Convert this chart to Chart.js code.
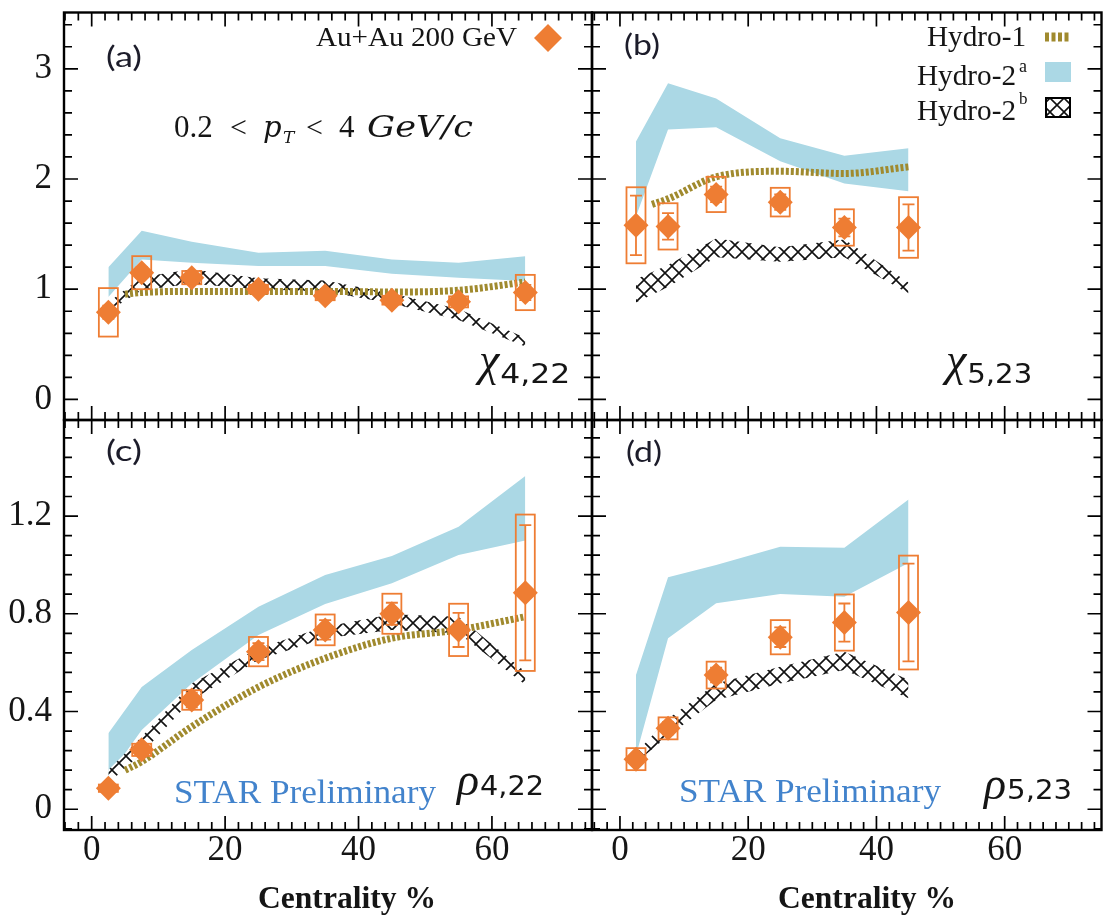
<!DOCTYPE html>
<html>
<head>
<meta charset="utf-8">
<title>Au+Au 200 GeV - chi and rho vs centrality</title>
<script src="https://cdn.jsdelivr.net/npm/chart.js@4.4.1/dist/chart.umd.min.js"></script>
<style>
  html, body { margin: 0; background: #fff; }
  #figure { position: relative; width: 1114px; height: 923px; background: #fff; }
  #figure canvas { position: absolute; left: 0; top: 0; }
</style>
</head>
<body>
<div id="figure">
  <canvas id="panelA" width="1114" height="923"></canvas>
  <canvas id="panelB" width="1114" height="923"></canvas>
  <canvas id="panelC" width="1114" height="923"></canvas>
  <canvas id="panelD" width="1114" height="923"></canvas>
</div>
<script>
// Centralité (%) des points
const centrality = [2.5, 7.5, 15, 25, 35, 45, 55, 65];
const centralityShort = [2.5, 7.5, 15, 25, 35, 45];
const hydro1X = [5, 7.5, 15, 25, 35, 45, 55, 65];
const hydro1XShort = [5, 7.5, 15, 25, 35, 45];

// Graduations
const xTicks = [0, 20, 40, 60];
const yTicksChi = [0, 1, 2, 3];
const yTicksRho = [0, 0.4, 0.8, 1.2];

// (a) chi 4,22
const chi422 = [0.79, 1.15, 1.105, 1.00, 0.94, 0.90, 0.885, 0.97];
const chi422Stat = [0.06, 0.05, 0.04, 0.03, 0.03, 0.04, 0.05, 0.07];
const chi422Sys = [0.22, 0.15, 0.06, 0.04, 0.04, 0.04, 0.05, 0.16];
const chi422Hydro1 = [0.955, 0.97, 0.98, 0.98, 0.98, 0.975, 0.99, 1.065];
const chi422Hydro2aLow = [0.93, 1.27, 1.24, 1.21, 1.21, 1.14, 1.105, 1.075];
const chi422Hydro2aHigh = [1.20, 1.53, 1.43, 1.33, 1.35, 1.27, 1.24, 1.30];
const chi422Hydro2bLow = [0.80, 0.99, 1.05, 1.00, 0.98, 0.87, 0.72, 0.48];
const chi422Hydro2bHigh = [0.88, 1.11, 1.18, 1.10, 1.08, 0.96, 0.82, 0.56];

// (b) chi 5,23
const chi523 = [1.58, 1.57, 1.86, 1.79, 1.56, 1.56];
const chi523Stat = [0.27, 0.12, 0.07, 0.07, 0.08, 0.21];
const chi523Sys = [0.345, 0.21, 0.16, 0.13, 0.165, 0.275];
const chi523Hydro1 = [1.77, 1.82, 2.02, 2.07, 2.05, 2.11];
const chi523Hydro2aLow = [1.66, 2.45, 2.47, 2.16, 1.96, 1.89];
const chi523Hydro2aHigh = [2.34, 2.87, 2.73, 2.37, 2.21, 2.28];
const chi523Hydro2bLow = [0.88, 1.02, 1.29, 1.25, 1.29, 0.96];
const chi523Hydro2bHigh = [1.09, 1.22, 1.46, 1.38, 1.45, 1.06];

// (c) rho 4,22
const rho422 = [0.086, 0.243, 0.447, 0.645, 0.734, 0.80, 0.734, 0.886];
const rho422Stat = [0.015, 0.02, 0.03, 0.035, 0.04, 0.045, 0.07, 0.277];
const rho422Sys = [0.015, 0.025, 0.04, 0.06, 0.063, 0.082, 0.107, 0.32];
const rho422Hydro1 = [0.16, 0.195, 0.338, 0.50, 0.618, 0.70, 0.734, 0.788];
const rho422Hydro2aLow = [0.133, 0.324, 0.515, 0.713, 0.84, 0.925, 1.04, 1.10];
const rho422Hydro2aHigh = [0.311, 0.50, 0.652, 0.829, 0.959, 1.036, 1.156, 1.364];
const rho422Hydro2bLow = [0.106, 0.229, 0.447, 0.611, 0.70, 0.734, 0.72, 0.509];
const rho422Hydro2bHigh = [0.161, 0.297, 0.515, 0.659, 0.747, 0.798, 0.788, 0.563];

// (d) rho 5,23
const rho523 = [0.205, 0.331, 0.549, 0.704, 0.764, 0.805];
const rho523Stat = [0.02, 0.025, 0.03, 0.04, 0.078, 0.2];
const rho523Sys = [0.045, 0.045, 0.055, 0.07, 0.115, 0.233];
const rho523Hydro2aLow = [0.22, 0.70, 0.843, 0.881, 0.87, 1.008];
const rho523Hydro2aHigh = [0.549, 0.949, 1.0, 1.074, 1.07, 1.268];
const rho523Hydro2bLow = [0.19, 0.30, 0.447, 0.515, 0.57, 0.454];
const rho523Hydro2bHigh = [0.23, 0.37, 0.515, 0.583, 0.645, 0.53];

const W = 1114, H = 923;
const orange = '#EE7D33';
const bandBlue = 'rgb(171, 216, 229)';
const olive = '#A08A2E';
const starBlue = '#4283CC';
const ink = '#151515';
const serif = '"Liberation Serif", "Times New Roman", serif';
const mathSerif = '"DejaVu Serif", serif';
const sans = 'Lato, "Noto Sans", sans-serif';

// motif hachuré pour Hydro-2b
const hatch = (function() {
    const c = document.createElement('canvas');
    c.width = 14; c.height = 14;
    const g = c.getContext('2d');
    g.fillStyle = '#fff';
    g.fillRect(0, 0, 14, 14);
    g.strokeStyle = '#111';
    g.lineWidth = 1.6;
    g.beginPath();
    g.moveTo(0, 0); g.lineTo(14, 14);
    g.moveTo(14, 0); g.lineTo(0, 14);
    g.stroke();
    return g.createPattern(c, 'repeat');
})();

function pts(xs, ys) {
    return xs.map((x, i) => ({ x: x, y: ys[i] }));
}

function drawText(ctx, s, x, y, font, color, align) {
    ctx.font = font;
    ctx.fillStyle = color || ink;
    ctx.textAlign = align || 'left';
    ctx.textBaseline = 'alphabetic';
    ctx.fillText(s, x, y);
    return ctx.measureText(s).width;
}

// texte étiré à une largeur donnée (police de l'original plus large)
function fitText(ctx, s, x, y, font, width, color, align) {
    ctx.save();
    ctx.font = font;
    const w = ctx.measureText(s).width;
    const sx = width / w;
    let left = x;
    if (align === 'center') left = x - width / 2;
    if (align === 'right') left = x - width;
    ctx.translate(left, y);
    ctx.scale(sx, 1);
    drawText(ctx, s, 0, 0, font, color, 'left');
    ctx.restore();
}

function diamond(ctx, x, y, r) {
    ctx.beginPath();
    ctx.moveTo(x - r, y); ctx.lineTo(x, y - r); ctx.lineTo(x + r, y); ctx.lineTo(x, y + r);
    ctx.closePath();
    ctx.fillStyle = orange;
    ctx.fill();
}

function observable(ctx, sym, sub, x, ySym, ySub, subWidth) {
    drawText(ctx, sym, x, ySym, `italic 46px ${serif}`);
    ctx.font = `italic 46px ${serif}`;
    const w = ctx.measureText(sym).width;
    fitText(ctx, sub, x + w + 1, ySub, `27px "DejaVu Sans", sans-serif`, subWidth);
}

function starPreliminary(ctx, x, y) {
    fitText(ctx, 'STAR Preliminary', x, y, `34px ${serif}`, 262, starBlue);
}

function centralityTitle(ctx, cx) {
    fitText(ctx, 'Centrality %', cx, 908, `bold 32px ${serif}`, 178, ink, 'center');
}

function panelTag(ctx, s, x, y) {
    fitText(ctx, s, x, y, `29px ${sans}`, 36, '#1c1c2a');
}

function drawPanelA(ctx) {
    panelTag(ctx, '(a)', 106, 67);
    // 0.2 < pT < 4 GeV/c
    const up = `30px ${serif}`, it = `italic 29px ${mathSerif}`;
    drawText(ctx, '0.2', 174, 137, `31px ${serif}`);
    drawText(ctx, '<', 230, 137, up);
    drawText(ctx, 'p', 263, 137, it);
    drawText(ctx, 'T', 283, 143, `italic 17px ${mathSerif}`);
    drawText(ctx, '<', 306, 137, up);
    drawText(ctx, '4', 339, 137, `31px ${serif}`);
    fitText(ctx, 'GeV/c', 367, 137, it, 106);
    // légende données
    fitText(ctx, 'Au+Au 200 GeV', 517, 46, `27px ${serif}`, 201, ink, 'right');
    diamond(ctx, 548, 38, 14);
    observable(ctx, '\u03C7', '4,22', 479, 375, 383, 70);
}

function drawPanelB(ctx) {
    panelTag(ctx, '(b)', 624, 55);
    fitText(ctx, 'Hydro-1', 1026, 46, `29px ${serif}`, 99, ink, 'right');
    fitText(ctx, 'Hydro-2', 1016, 85, `29px ${serif}`, 99, ink, 'right');
    drawText(ctx, 'a', 1019, 72, `18px ${serif}`);
    fitText(ctx, 'Hydro-2', 1016, 120, `29px ${serif}`, 99, ink, 'right');
    drawText(ctx, 'b', 1019, 104, `17px ${serif}`);
    // échantillons de légende
    ctx.save();
    ctx.strokeStyle = olive;
    ctx.lineWidth = 9;
    ctx.setLineDash([4, 2.5]);
    ctx.beginPath(); ctx.moveTo(1045, 37); ctx.lineTo(1071, 37); ctx.stroke();
    ctx.setLineDash([]);
    ctx.fillStyle = bandBlue;
    ctx.fillRect(1045, 62, 26, 20);
    ctx.fillStyle = hatch;
    ctx.fillRect(1046, 98, 24, 19);
    ctx.strokeStyle = '#000';
    ctx.lineWidth = 2;
    ctx.strokeRect(1046, 98, 24, 19);
    ctx.restore();
    observable(ctx, '\u03C7', '5,23', 946, 375, 383, 65);
}

function drawPanelC(ctx) {
    panelTag(ctx, '(c)', 106, 461);
    starPreliminary(ctx, 174, 803);
    observable(ctx, '\u03C1', '4,22', 457, 795, 795, 64);
    centralityTitle(ctx, 347);
}

function drawPanelD(ctx) {
    panelTag(ctx, '(d)', 626, 462);
    starPreliminary(ctx, 679, 802);
    observable(ctx, '\u03C1', '5,23', 984, 799, 799, 65);
    centralityTitle(ctx, 867);
}

// Cadre + graduations intérieures (majeures et mineures) sur les 4 côtés
function framePlugin(p) {
    return {
        id: 'frameTicks',
        afterDraw(chart) {
            const ctx = chart.ctx;
            const a = chart.chartArea;
            const x = chart.scales.x, y = chart.scales.y;
            ctx.save();
            ctx.strokeStyle = '#000';
            ctx.lineWidth = 1.7;
            ctx.beginPath();
            for (let k = Math.ceil(x.min / 2); k * 2 <= x.max; k++) {
                const v = k * 2;
                const px = x.getPixelForValue(v);
                const len = v % 20 === 0 ? 14 : 8;
                ctx.moveTo(px, a.bottom); ctx.lineTo(px, a.bottom - len);
                ctx.moveTo(px, a.top); ctx.lineTo(px, a.top + len);
            }
            for (let k = Math.ceil(y.min / p.yMinor - 1e-6); k * p.yMinor <= y.max + 1e-9; k++) {
                const v = k * p.yMinor;
                const major = Math.abs(v / p.yMajor - Math.round(v / p.yMajor)) < 1e-6;
                const py = y.getPixelForValue(v);
                const len = major ? 14 : 8;
                ctx.moveTo(a.left, py); ctx.lineTo(a.left + len, py);
                ctx.moveTo(a.right, py); ctx.lineTo(a.right - len, py);
            }
            ctx.stroke();
            ctx.lineWidth = 2.4;
            ctx.strokeRect(a.left, a.top, a.right - a.left, a.bottom - a.top);
            ctx.restore();
            p.decorate(ctx);
        }
    };
}

// Boîtes systématiques + barres statistiques, dessinées juste sous les losanges
function errorPlugin(p) {
    return {
        id: 'errorBoxes',
        beforeDatasetDraw(chart, args) {
            if (args.index !== 0) return;
            const ctx = chart.ctx;
            const x = chart.scales.x, y = chart.scales.y;
            ctx.save();
            ctx.strokeStyle = orange;
            ctx.lineWidth = 1.8;
            p.xs.forEach((xv, i) => {
                const px = x.getPixelForValue(xv);
                const sTop = y.getPixelForValue(p.ys[i] + p.sys[i]);
                const sBot = y.getPixelForValue(p.ys[i] - p.sys[i]);
                ctx.strokeRect(px - 9.5, sTop, 19, sBot - sTop);
                const eTop = y.getPixelForValue(p.ys[i] + p.stat[i]);
                const eBot = y.getPixelForValue(p.ys[i] - p.stat[i]);
                ctx.beginPath();
                ctx.moveTo(px, eTop); ctx.lineTo(px, eBot);
                ctx.moveTo(px - 6, eTop); ctx.lineTo(px + 6, eTop);
                ctx.moveTo(px - 6, eBot); ctx.lineTo(px + 6, eBot);
                ctx.stroke();
            });
            ctx.restore();
        }
    };
}

const panels = [
    {
        canvas: 'panelA', area: { left: 64, top: 10, right: 592, bottom: 420 },
        xMin: -4.15, xMax: 75, yMin: -0.187, yMax: 3.511,
        yTicks: yTicksChi, yMajor: 1, yMinor: 0.2, showX: false, showY: true,
        xs: centrality, ys: chi422, stat: chi422Stat, sys: chi422Sys,
        h1x: hydro1X, h1: chi422Hydro1,
        h2aLow: chi422Hydro2aLow, h2aHigh: chi422Hydro2aHigh,
        h2bLow: chi422Hydro2bLow, h2bHigh: chi422Hydro2bHigh,
        decorate: drawPanelA
    },
    {
        canvas: 'panelB', area: { left: 592, top: 10, right: 1102, bottom: 420 },
        xMin: -4.36, xMax: 75.1, yMin: -0.187, yMax: 3.511,
        yTicks: yTicksChi, yMajor: 1, yMinor: 0.2, showX: false, showY: false,
        xs: centralityShort, ys: chi523, stat: chi523Stat, sys: chi523Sys,
        h1x: hydro1XShort, h1: chi523Hydro1,
        h2aLow: chi523Hydro2aLow, h2aHigh: chi523Hydro2aHigh,
        h2bLow: chi523Hydro2bLow, h2bHigh: chi523Hydro2bHigh,
        decorate: drawPanelB
    },
    {
        canvas: 'panelC', area: { left: 64, top: 420, right: 592, bottom: 830 },
        xMin: -4.15, xMax: 75, yMin: -0.085, yMax: 1.593,
        yTicks: yTicksRho, yMajor: 0.4, yMinor: 0.08, showX: true, showY: true,
        xs: centrality, ys: rho422, stat: rho422Stat, sys: rho422Sys,
        h1x: hydro1X, h1: rho422Hydro1,
        h2aLow: rho422Hydro2aLow, h2aHigh: rho422Hydro2aHigh,
        h2bLow: rho422Hydro2bLow, h2bHigh: rho422Hydro2bHigh,
        decorate: drawPanelC
    },
    {
        canvas: 'panelD', area: { left: 592, top: 420, right: 1102, bottom: 830 },
        xMin: -4.36, xMax: 75.1, yMin: -0.085, yMax: 1.593,
        yTicks: yTicksRho, yMajor: 0.4, yMinor: 0.08, showX: true, showY: false,
        xs: centralityShort, ys: rho523, stat: rho523Stat, sys: rho523Sys,
        h1x: null, h1: null,
        h2aLow: rho523Hydro2aLow, h2aHigh: rho523Hydro2aHigh,
        h2bLow: rho523Hydro2bLow, h2bHigh: rho523Hydro2bHigh,
        decorate: drawPanelD
    }
];

const clear = 'rgba(0,0,0,0)';

function buildPanel(p) {
    const datasets = [];
    datasets.push({
        label: 'Au+Au 200 GeV', data: pts(p.xs, p.ys), showLine: false,
        pointStyle: 'rectRot', pointRadius: 12.5, pointBackgroundColor: orange,
        pointBorderWidth: 0, pointBorderColor: clear, order: 0
    });
    if (p.h1) {
        datasets.push({
            label: 'Hydro-1', data: pts(p.h1x, p.h1), borderColor: olive, borderWidth: 7,
            borderDash: [3, 2], borderCapStyle: 'butt', pointRadius: 0,
            cubicInterpolationMode: 'monotone', fill: false, order: 1
        });
    }
    datasets.push({
        label: 'Hydro-2b bas', data: pts(p.xs, p.h2bLow), borderColor: clear, borderWidth: 0,
        pointRadius: 0, fill: false, order: 2
    });
    datasets.push({
        label: 'Hydro-2b', data: pts(p.xs, p.h2bHigh), borderColor: clear, borderWidth: 0,
        pointRadius: 0, fill: '-1', backgroundColor: hatch, order: 2
    });
    datasets.push({
        label: 'Hydro-2a bas', data: pts(p.xs, p.h2aLow), borderColor: clear, borderWidth: 0,
        pointRadius: 0, fill: false, order: 3
    });
    datasets.push({
        label: 'Hydro-2a', data: pts(p.xs, p.h2aHigh), borderColor: clear, borderWidth: 0,
        pointRadius: 0, fill: '-1', backgroundColor: bandBlue, order: 3
    });

    new Chart(document.getElementById(p.canvas), {
        type: 'line',
        data: { datasets: datasets },
        options: {
            responsive: false,
            animation: false,
            events: [],
            layout: {
                padding: {
                    left: p.showY ? 0 : p.area.left,
                    right: W - p.area.right,
                    top: p.area.top,
                    bottom: p.showX ? 0 : H - p.area.bottom
                }
            },
            plugins: {
                legend: { display: false },
                tooltip: { enabled: false }
            },
            scales: {
                x: {
                    type: 'linear', min: p.xMin, max: p.xMax, display: p.showX,
                    grid: { display: false }, border: { display: false },
                    ticks: {
                        font: { family: serif, size: 35 }, color: ink, padding: -8,
                        maxRotation: 0, autoSkip: false, callback: v => String(v)
                    },
                    afterBuildTicks: s => { s.ticks = xTicks.map(v => ({ value: v })); },
                    afterFit: s => {
                        if (p.showX) s.height = H - p.area.bottom;
                        s.paddingLeft = 0; s.paddingRight = 0;
                    }
                },
                y: {
                    type: 'linear', min: p.yMin, max: p.yMax, display: p.showY,
                    grid: { display: false }, border: { display: false },
                    ticks: {
                        font: { family: serif, size: 35 }, color: ink, padding: 4,
                        callback: v => String(v)
                    },
                    afterBuildTicks: s => { s.ticks = p.yTicks.map(v => ({ value: v })); },
                    afterFit: s => {
                        if (p.showY) s.width = p.area.left;
                        s.paddingTop = 0; s.paddingBottom = 0;
                    }
                }
            }
        },
        plugins: [errorPlugin(p), framePlugin(p)]
    });
}

panels.forEach(buildPanel);
</script>
</body>
</html>
